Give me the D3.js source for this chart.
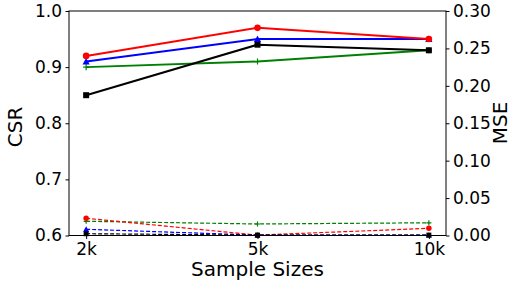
<!DOCTYPE html>
<html>
<head>
<meta charset="utf-8">
<script src="https://cdn.jsdelivr.net/npm/d3@7"></script>
<style>
  body { margin: 0; background: #fff; }
  text { font-family: "DejaVu Sans", sans-serif; fill: #000; }
</style>
</head>
<body>
<div id="chart"></div>
<script>
    var width = 515;
    var height = 284;

    // x categories
    var sizes = ["2k", "5k", "10k"];

    // CSR (solid, left axis)
    var csrRed = [0.92, 0.97, 0.95];
    var csrBlue = [0.91, 0.95, 0.95];
    var csrGreen = [0.90, 0.91, 0.93];
    var csrBlack = [0.85, 0.94, 0.93];

    // MSE (dashed, right axis)
    var mseRed = [0.023, 0.0005, 0.0096];
    var mseBlue = [0.0083, 0.0005, 0.0005];
    var mseGreen = [0.019, 0.0154, 0.017];
    var mseBlack = [0.0024, 0.0005, 0.0005];

    var csrTicks = [0.6, 0.7, 0.8, 0.9, 1.0];
    var mseTicks = [0, 0.05, 0.10, 0.15, 0.20, 0.25, 0.30];

    // plot frame, in pixels
    var plotL = 69, plotR = 446, plotT = 11, plotB = 235.5;

    var x = d3.scalePoint().domain(sizes).range([plotL, plotR]).padding(0.1);
    var yL = d3.scaleLinear().domain([0.6, 1.0]).range([plotB, plotT]);
    var yR = d3.scaleLinear().domain([0, 0.30]).range([plotB, plotT]);

    var svg = d3.select("#chart").append("svg")
                .attr("width", width).attr("height", height);

    // markers
    var drawMarker = function(g, shape, cx, cy, color, sz) {
       if (shape == "o") {
          g.append("circle").attr("cx", cx).attr("cy", cy).attr("r", sz * 0.55).attr("fill", color);
       } else if (shape == "s") {
          g.append("rect").attr("x", cx - sz/2).attr("y", cy - sz/2)
           .attr("width", sz).attr("height", sz).attr("fill", color);
       } else if (shape == "^") {
          var h = sz * 0.6;
          g.append("path").attr("d", "M" + cx + "," + (cy - h) + "L" + (cx + h) + "," + (cy + h*0.8) +
             "L" + (cx - h) + "," + (cy + h*0.8) + "Z").attr("fill", color);
       } else {
          g.append("path").attr("d", "M" + (cx - sz/2) + "," + cy + "H" + (cx + sz/2) +
             "M" + cx + "," + (cy - sz/2) + "V" + (cy + sz/2))
           .attr("stroke", color).attr("stroke-width", 1.2);
       }
    }

    var drawSeries = function(vals, scale, color, shape, dashed) {
       var g = svg.append("g");
       var line = d3.line().x(function(d, i) { return x(sizes[i]); })
                           .y(function(d) { return scale(d); });
       g.append("path").datum(vals).attr("d", line)
        .attr("fill", "none").attr("stroke", color)
        .attr("stroke-width", dashed ? 1.2 : 2)
        .attr("stroke-dasharray", dashed ? "4,2" : null);
       var sz = dashed ? 5 : 6;
       for (var i = 0; i < vals.length; i++) {
          drawMarker(g, shape, x(sizes[i]), scale(vals[i]), color, sz);
       }
    }

    drawSeries(mseGreen, yR, "green", "+", true);
    drawSeries(mseRed, yR, "red", "o", true);
    drawSeries(mseBlue, yR, "blue", "^", true);
    drawSeries(mseBlack, yR, "black", "s", true);

    drawSeries(csrGreen, yL, "green", "+", false);
    drawSeries(csrBlack, yL, "black", "s", false);
    drawSeries(csrBlue, yL, "blue", "^", false);
    drawSeries(csrRed, yL, "red", "o", false);

    // frame
    svg.append("rect").attr("x", plotL).attr("y", plotT)
       .attr("width", plotR - plotL).attr("height", plotB - plotT)
       .attr("fill", "none").attr("stroke", "#000").attr("stroke-width", 1);

    var axB = svg.append("g").attr("transform", "translate(0," + plotB + ")")
       .call(d3.axisBottom(x).tickSize(3.5).tickPadding(3.5));
    var axL = svg.append("g").attr("transform", "translate(" + plotL + ",0)")
       .call(d3.axisLeft(yL).tickValues(csrTicks).tickFormat(d3.format(".1f")).tickSize(3.5).tickPadding(3.5));
    var axR = svg.append("g").attr("transform", "translate(" + plotR + ",0)")
       .call(d3.axisRight(yR).tickValues(mseTicks).tickFormat(d3.format(".2f")).tickSize(3.5).tickPadding(3.5));

    [axB, axL, axR].forEach(function(a) {
       a.select(".domain").remove();
       a.selectAll("text").style("font-size", "17px").style("font-family", "DejaVu Sans");
    });

    svg.append("text").attr("x", (plotL + plotR) / 2).attr("y", 276)
       .attr("text-anchor", "middle").style("font-size", "20px").text("Sample Sizes");
    svg.append("text").attr("transform", "translate(22,127) rotate(-90)")
       .attr("text-anchor", "middle").style("font-size", "20px").text("CSR");
    svg.append("text").attr("transform", "translate(507,123) rotate(-90)")
       .attr("text-anchor", "middle").style("font-size", "20px").text("MSE");
</script>
</body>
</html>
